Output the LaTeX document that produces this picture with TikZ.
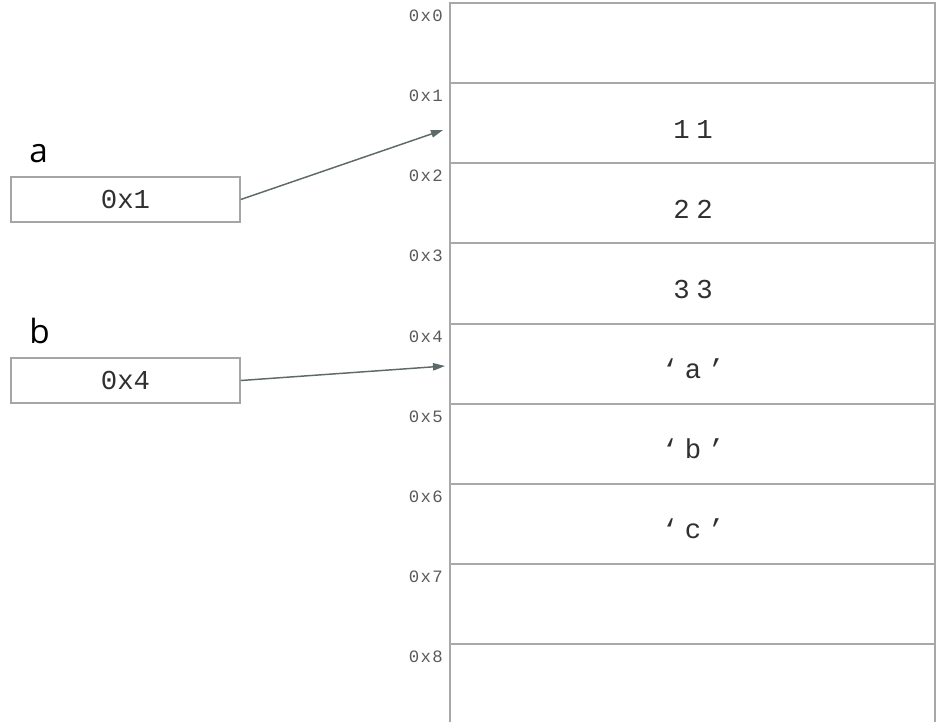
\documentclass[tikz,border=0pt]{standalone}
\usepackage{fontspec}
\newfontfamily\valfont[LetterSpace=24]{Liberation Mono}
\newfontfamily\boxfont{Liberation Mono}
\newfontfamily\adrfont[LetterSpace=8]{Liberation Mono}
\newfontfamily\lblfont{Open Sans}
\usetikzlibrary{arrows.meta}
\definecolor{gridgray}{HTML}{A8A8A8}
\definecolor{boxgray}{HTML}{A5A5A5}
\definecolor{arrowgray}{HTML}{5E6A6A}
\definecolor{adrtext}{HTML}{5A5A5A}
\definecolor{valtext}{HTML}{303030}
\tikzset{
  grid/.style={draw=gridgray, line width=1.5pt},
  varbox/.style={draw=boxgray, line width=1.1pt, minimum width=171.75pt, minimum height=33.75pt, inner sep=0pt, font=\boxfont\fontsize{20.5}{24}\selectfont, text=valtext},
  adr/.style={anchor=base east, inner sep=0pt, text=adrtext, font=\adrfont\fontsize{13}{16}\selectfont},
  val/.style={anchor=base, inner sep=0pt, text=valtext, font=\valfont\fontsize{20.5}{24}\selectfont},
  lbl/.style={anchor=base west, inner sep=0pt, text=black, font=\lblfont\fontsize{25}{30}\selectfont},
  ptr/.style={draw=arrowgray, line width=1.1pt, -{Triangle[length=9pt, width=5.5pt]}}
}
\begin{document}
\begin{tikzpicture}[x=0.75pt, y=-0.75pt]
\useasboundingbox (0,0) rectangle (937,722);
% memory column
\draw[grid] (450,722) -- (450,3) -- (935,3) -- (935,722);
\foreach \k in {1,...,8} {
  \draw[grid] (450,{3+80.15*\k}) -- (935,{3+80.15*\k});
}
% addresses
\foreach \k in {0,...,8} {
  \node[adr] (ad\k) at (443,{3+80.15*\k+18.5}) {0x\k};
}
% values
\node[val] (m1) at (693,{3+80.15*1+55}) {11};
\node[val] (m2) at (693,{3+80.15*2+55}) {22};
\node[val] (m3) at (693,{3+80.15*3+55}) {33};
\node[val] (m4) at (693,{3+80.15*4+55}) {‘a’};
\node[val] (m5) at (693,{3+80.15*5+55}) {‘b’};
\node[val] (m6) at (693,{3+80.15*6+55}) {‘c’};
% variables
\node[lbl] (la) at (29,162) {a};
\node[varbox] (boxa) at (125.5,199.5) {0x1};
\node[lbl] (lb) at (29,343) {b};
\node[varbox] (boxb) at (125.5,380.5) {0x4};
% pointer targets
\coordinate (ta) at (443,130);
\coordinate (tb) at (445,366);
\draw[ptr] (boxa.east) -- (ta);
\draw[ptr] (boxb.east) -- (tb);
\end{tikzpicture}
\end{document}
